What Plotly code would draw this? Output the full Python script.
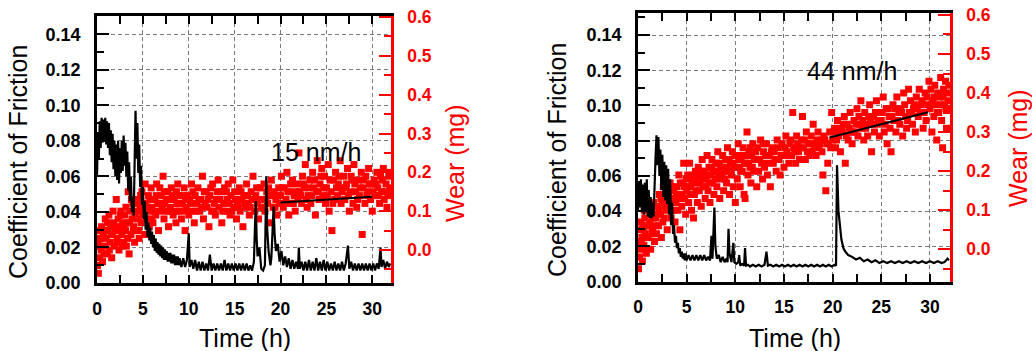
import plotly.graph_objects as go

W, H = 1032, 351

# ---------------- data: left panel ----------------
cof_left_pts = [
    (0.0, 0.060), (0.1, 0.085), (0.2, 0.070), (0.3, 0.091), (0.4, 0.076), (0.5, 0.093), (0.6, 0.079),
    (0.7, 0.092), (0.8, 0.080), (0.9, 0.093), (1.0, 0.078), (1.1, 0.091), (1.2, 0.076), (1.3, 0.090),
    (1.4, 0.072), (1.5, 0.086), (1.6, 0.068), (1.7, 0.084), (1.8, 0.064), (1.9, 0.080), (2.0, 0.060),
    (2.1, 0.078), (2.2, 0.058), (2.3, 0.080), (2.4, 0.056), (2.5, 0.076), (2.6, 0.062), (2.7, 0.080),
    (2.8, 0.063), (2.9, 0.083), (3.0, 0.066), (3.1, 0.079), (3.2, 0.060), (3.3, 0.074), (3.4, 0.052),
    (3.5, 0.068), (3.6, 0.046), (3.7, 0.060), (3.8, 0.040), (3.9, 0.045), (4.0, 0.038), (4.1, 0.080),
    (4.2, 0.097), (4.3, 0.070), (4.4, 0.090), (4.5, 0.062), (4.6, 0.078), (4.7, 0.054), (4.8, 0.066),
    (4.9, 0.044), (5.0, 0.054), (5.1, 0.036), (5.2, 0.046), (5.3, 0.030), (5.4, 0.040), (5.5, 0.026),
    (5.6, 0.034), (5.7, 0.024), (5.8, 0.031), (5.9, 0.022), (6.0, 0.029), (6.1, 0.020), (6.2, 0.027),
    (6.3, 0.018), (6.4, 0.025), (6.5, 0.017), (6.6, 0.023), (6.7, 0.016), (6.8, 0.022), (6.9, 0.015),
    (7.0, 0.021), (7.1, 0.014), (7.2, 0.020), (7.3, 0.013), (7.4, 0.019), (7.5, 0.013), (7.6, 0.018),
    (7.7, 0.012), (7.8, 0.017), (7.9, 0.012), (8.0, 0.017), (8.1, 0.011), (8.2, 0.016), (8.3, 0.011),
    (8.4, 0.016), (8.5, 0.010), (8.6, 0.015), (8.7, 0.010), (8.8, 0.015), (8.9, 0.010), (9.0, 0.014),
    (9.2, 0.009), (9.4, 0.014), (9.6, 0.009), (9.8, 0.013), (10.0, 0.028), (10.1, 0.009), (10.3, 0.013),
    (10.5, 0.008), (10.7, 0.013), (10.9, 0.007), (11.1, 0.012), (11.3, 0.007), (11.5, 0.012), (11.7, 0.007),
    (11.9, 0.011), (12.1, 0.007), (12.3, 0.016), (12.5, 0.007), (12.7, 0.011), (12.9, 0.007), (13.1, 0.011),
    (13.3, 0.007), (13.5, 0.011), (13.7, 0.007), (13.9, 0.013), (14.1, 0.007), (14.3, 0.011), (14.5, 0.007),
    (14.7, 0.011), (14.9, 0.007), (15.1, 0.011), (15.3, 0.007), (15.5, 0.011), (15.7, 0.007), (15.9, 0.011),
    (16.1, 0.007), (16.3, 0.011), (16.5, 0.007), (16.7, 0.010), (16.9, 0.007), (17.1, 0.012), (17.3, 0.046),
    (17.4, 0.025), (17.5, 0.015), (17.7, 0.020), (17.9, 0.008), (18.1, 0.007), (18.3, 0.010), (18.45, 0.060),
    (18.55, 0.030), (18.7, 0.018), (18.9, 0.010), (19.0, 0.014), (19.25, 0.043), (19.35, 0.028), (19.5, 0.018),
    (19.7, 0.022), (19.9, 0.012), (20.1, 0.018), (20.3, 0.010), (20.5, 0.015), (20.7, 0.009), (20.9, 0.014),
    (21.1, 0.008), (21.3, 0.013), (21.5, 0.008), (21.7, 0.012), (21.9, 0.008), (22.0, 0.020), (22.1, 0.008),
    (22.3, 0.012), (22.5, 0.007), (22.7, 0.012), (22.9, 0.007), (23.1, 0.013), (23.3, 0.007), (23.5, 0.012),
    (23.7, 0.007), (23.9, 0.014), (24.1, 0.007), (24.3, 0.012), (24.5, 0.007), (24.7, 0.013), (24.9, 0.007),
    (25.1, 0.012), (25.3, 0.007), (25.5, 0.011), (25.7, 0.007), (25.9, 0.012), (26.1, 0.007), (26.3, 0.011),
    (26.5, 0.007), (26.7, 0.012), (26.9, 0.007), (27.1, 0.011), (27.35, 0.021), (27.5, 0.008), (27.7, 0.012),
    (27.9, 0.007), (28.1, 0.011), (28.3, 0.007), (28.5, 0.011), (28.7, 0.007), (28.9, 0.011), (29.1, 0.007),
    (29.3, 0.011), (29.5, 0.007), (29.7, 0.011), (29.9, 0.007), (30.1, 0.011), (30.3, 0.007), (30.5, 0.011),
    (30.7, 0.008), (30.9, 0.020), (31.0, 0.009), (31.2, 0.013), (31.4, 0.008), (31.6, 0.012), (31.8, 0.009),
    (31.95, 0.011),
]

wear_left_pts = [
    (0.05, -0.04), (0.1, 0.02), (0.15, -0.06), (0.2, 0.05), (0.3, -0.02), (0.35, 0.03), (0.45, 0.0), (0.5, 0.06),
    (0.6, -0.03), (0.7, 0.04), (0.8, 0.01), (0.9, 0.08),
    (1.0, 0.03), (1.1, -0.01), (1.2, 0.05), (1.3, 0.09), (1.4, 0.02), (1.5, 0.06), (1.6, -0.02), (1.7, 0.04),
    (1.8, 0.07), (1.9, 0.01),
    (2.0, 0.05), (2.1, 0.13), (2.2, 0.03), (2.3, 0.08), (2.4, 0.0), (2.5, 0.06), (2.6, 0.1), (2.7, 0.04),
    (2.8, 0.07), (2.9, 0.02),
    (3.0, 0.09), (3.1, 0.05), (3.2, 0.01), (3.3, 0.07), (3.4, 0.15), (3.5, -0.01), (3.6, 0.1), (3.7, 0.04),
    (3.8, 0.08), (3.9, 0.12),
    (4.0, 0.06), (4.1, 0.02), (4.2, 0.1), (4.3, 0.05), (4.4, 0.13), (4.5, 0.08), (4.6, 0.03), (4.7, 0.11),
    (4.8, 0.07), (4.9, 0.15),
    (5.0, 0.09), (5.2, 0.04), (5.3, 0.12), (5.4, 0.08), (5.6, 0.14), (5.7, 0.06), (5.8, 0.1), (5.9, 0.16),
    (6.0, 0.11), (6.1, 0.07), (6.3, 0.13), (6.4, 0.09), (6.5, 0.17), (6.7, 0.05), (6.8, 0.12), (6.9, 0.1),
    (7.0, 0.14), (7.2, 0.19), (7.3, 0.08), (7.4, 0.12), (7.6, 0.1), (7.7, 0.15), (7.8, 0.06), (7.9, 0.13),
    (8.0, 0.11), (8.1, 0.16), (8.3, 0.09), (8.4, 0.13), (8.6, 0.07), (8.7, 0.12), (8.8, 0.17), (8.9, 0.1),
    (9.0, 0.14), (9.2, 0.08), (9.3, 0.12), (9.5, 0.16), (9.6, 0.05), (9.7, 0.11), (9.9, 0.14),
    (10.0, 0.09), (10.1, 0.13), (10.3, 0.17), (10.4, 0.1), (10.6, 0.07), (10.7, 0.14), (10.9, 0.12),
    (11.0, 0.16), (11.2, 0.1), (11.3, 0.13), (11.5, 0.19), (11.6, 0.08), (11.8, 0.12), (11.9, 0.15),
    (12.0, 0.11), (12.2, 0.06), (12.3, 0.14), (12.5, 0.1), (12.6, 0.17), (12.8, 0.12), (12.9, 0.09),
    (13.0, 0.13), (13.2, 0.18), (13.3, 0.11), (13.5, 0.15), (13.6, 0.07), (13.8, 0.12), (13.9, 0.16),
    (14.0, 0.1), (14.2, 0.13), (14.3, 0.17), (14.5, 0.09), (14.6, 0.14), (14.8, 0.18), (14.9, 0.11),
    (15.0, 0.15), (15.2, 0.08), (15.3, 0.12), (15.5, 0.16), (15.6, 0.1), (15.8, 0.13), (15.9, 0.06),
    (16.0, 0.14), (16.2, 0.11), (16.3, 0.17), (16.5, 0.12), (16.6, 0.09), (16.8, 0.15), (16.9, 0.13),
    (17.0, 0.19), (17.2, 0.1), (17.3, 0.14), (17.5, 0.12), (17.6, 0.08), (17.8, 0.16), (17.9, 0.11),
    (18.0, 0.13), (18.2, 0.17), (18.3, 0.1), (18.5, 0.15), (18.6, 0.12), (18.8, 0.07), (18.9, 0.14),
    (19.0, 0.18), (19.2, 0.11), (19.3, 0.15), (19.5, 0.13), (19.6, 0.09), (19.8, 0.16), (19.9, 0.12),
    (20.0, 0.14), (20.1, 0.19), (20.3, 0.11), (20.4, 0.16), (20.6, 0.13), (20.7, 0.2), (20.9, 0.09),
    (21.0, 0.15), (21.2, 0.12), (21.3, 0.18), (21.5, 0.14), (21.6, 0.1), (21.8, 0.17), (21.9, 0.13),
    (22.0, 0.25), (22.1, 0.15), (22.3, 0.12), (22.4, 0.19), (22.6, 0.16), (22.7, 0.22), (22.9, 0.11),
    (23.0, 0.14), (23.2, 0.18), (23.3, 0.12), (23.5, 0.2), (23.6, 0.16), (23.8, 0.09), (23.9, 0.15),
    (24.0, 0.23), (24.2, 0.13), (24.3, 0.17), (24.5, 0.21), (24.6, 0.14), (24.8, 0.19), (24.9, 0.12),
    (25.0, 0.16), (25.2, 0.22), (25.3, 0.1), (25.5, 0.15), (25.6, 0.05), (25.8, 0.18), (25.9, 0.13),
    (26.0, 0.2), (26.2, 0.14), (26.3, 0.17), (26.5, 0.23), (26.6, 0.12), (26.8, 0.16), (26.9, 0.19),
    (27.0, 0.13), (27.2, 0.17), (27.3, 0.21), (27.5, 0.1), (27.6, 0.15), (27.8, 0.18), (27.9, 0.12),
    (28.0, 0.22), (28.2, 0.15), (28.3, 0.11), (28.5, 0.18), (28.6, 0.14), (28.8, 0.2), (28.9, 0.04),
    (29.0, 0.16), (29.2, 0.12), (29.3, 0.19), (29.5, 0.15), (29.6, 0.21), (29.8, 0.13), (29.9, 0.17),
    (30.0, 0.1), (30.2, 0.18), (30.3, 0.14), (30.5, 0.2), (30.6, 0.16), (30.8, 0.12), (30.9, 0.19),
    (31.0, 0.15), (31.2, 0.21), (31.3, 0.13), (31.5, 0.17), (31.6, 0.11), (31.8, 0.19), (31.9, 0.16),
]

wear_left_pts_more = [
    (0.25, 0.01), (0.55, 0.03), (0.75, -0.01), (0.95, 0.05), (1.15, 0.07), (1.35, 0.0), (1.55, 0.04),
    (1.75, 0.1), (1.95, 0.06), (2.15, 0.02), (2.35, 0.05), (2.55, 0.09), (2.75, 0.01), (2.95, 0.06),
    (3.15, 0.11), (3.35, 0.03), (3.55, 0.07), (3.75, 0.13), (3.95, 0.05), (4.15, 0.09), (4.35, 0.12),
    (4.55, 0.05), (4.75, 0.14), (4.95, 0.1), (5.1, 0.12), (5.25, 0.17), (5.5, 0.11), (5.75, 0.13),
    (5.95, 0.08), (6.2, 0.1), (6.45, 0.14), (6.6, 0.12), (6.85, 0.16), (7.1, 0.11), (7.35, 0.15),
    (7.55, 0.13), (7.85, 0.1), (8.2, 0.14), (8.45, 0.1), (8.65, 0.15), (8.95, 0.12), (9.1, 0.1),
    (9.4, 0.14), (9.65, 0.13), (9.85, 0.1), (10.2, 0.12), (10.45, 0.15), (10.8, 0.1), (11.1, 0.13),
    (11.4, 0.11), (11.7, 0.15), (12.1, 0.13), (12.4, 0.16), (12.7, 0.1), (13.1, 0.15), (13.4, 0.13),
    (13.7, 0.1), (14.1, 0.15), (14.4, 0.12), (14.7, 0.1), (15.1, 0.13), (15.4, 0.11), (15.7, 0.15),
    (16.1, 0.12), (16.4, 0.14), (16.7, 0.11), (17.1, 0.13), (17.4, 0.16), (17.7, 0.13), (18.1, 0.11),
    (18.4, 0.13), (18.7, 0.16), (19.1, 0.14), (19.4, 0.11), (19.7, 0.14), (20.2, 0.16), (20.5, 0.12),
    (20.8, 0.15), (21.1, 0.17), (21.4, 0.12), (21.7, 0.15), (22.2, 0.14), (22.5, 0.17), (22.8, 0.13),
    (23.1, 0.16), (23.4, 0.14), (23.7, 0.18), (24.1, 0.15), (24.4, 0.19), (24.7, 0.16), (25.1, 0.14),
    (25.4, 0.18), (25.7, 0.12), (26.1, 0.16), (26.4, 0.19), (26.7, 0.15), (27.1, 0.16), (27.4, 0.14),
    (27.7, 0.19), (28.1, 0.17), (28.4, 0.13), (28.7, 0.16), (29.1, 0.18), (29.4, 0.14), (29.7, 0.17),
    (30.1, 0.15), (30.4, 0.17), (30.7, 0.14), (31.1, 0.18), (31.4, 0.15), (31.7, 0.14), (31.85, 0.2),
]

trend_left_time = [20.0, 30.0]
trend_left_wear = [0.122, 0.137]

# ---------------- data: right panel ----------------
cof_right_pts = [
    (0.0, 0.040), (0.1, 0.057), (0.2, 0.042), (0.3, 0.058), (0.4, 0.040), (0.5, 0.055), (0.6, 0.038),
    (0.7, 0.056), (0.8, 0.040), (0.9, 0.058), (1.0, 0.037), (1.1, 0.052), (1.2, 0.036), (1.3, 0.048),
    (1.4, 0.036), (1.5, 0.045), (1.6, 0.037), (1.7, 0.062), (1.8, 0.070), (1.9, 0.083), (2.0, 0.066),
    (2.1, 0.082), (2.2, 0.060), (2.3, 0.075), (2.4, 0.052), (2.5, 0.072), (2.6, 0.048), (2.7, 0.068),
    (2.8, 0.046), (2.9, 0.066), (3.0, 0.044), (3.1, 0.064), (3.2, 0.038), (3.3, 0.058), (3.4, 0.032),
    (3.5, 0.045), (3.6, 0.027), (3.7, 0.032), (3.8, 0.022), (3.9, 0.026), (4.0, 0.019), (4.1, 0.022),
    (4.2, 0.016), (4.3, 0.019), (4.4, 0.014), (4.5, 0.017), (4.6, 0.013), (4.7, 0.016), (4.8, 0.012),
    (4.9, 0.016), (5.0, 0.012), (5.2, 0.015), (5.4, 0.012), (5.6, 0.015), (5.8, 0.012), (6.0, 0.015),
    (6.2, 0.012), (6.4, 0.015), (6.6, 0.012), (6.8, 0.015), (7.0, 0.012), (7.2, 0.014), (7.4, 0.012),
    (7.55, 0.026), (7.65, 0.013), (7.85, 0.042), (7.95, 0.020), (8.1, 0.013), (8.3, 0.015), (8.5, 0.011),
    (8.7, 0.014), (8.9, 0.011), (9.1, 0.013), (9.2, 0.011), (9.3, 0.030), (9.4, 0.016), (9.6, 0.011),
    (9.8, 0.022), (9.9, 0.011), (10.1, 0.010), (10.3, 0.011), (10.4, 0.015), (10.5, 0.009), (10.7, 0.010),
    (10.9, 0.009), (11.0, 0.019), (11.1, 0.009), (11.3, 0.0095), (11.5, 0.0085), (11.8, 0.0095), (12.1, 0.0085),
    (12.4, 0.0095), (12.7, 0.0085), (13.0, 0.0095), (13.2, 0.017), (13.35, 0.009), (13.6, 0.0095), (13.9, 0.0085),
    (14.2, 0.0095), (14.5, 0.0085), (14.8, 0.0095), (15.1, 0.0085), (15.4, 0.0095), (15.7, 0.0085), (16.0, 0.0095),
    (16.3, 0.0085), (16.6, 0.0095), (16.9, 0.0085), (17.2, 0.0095), (17.5, 0.0085), (17.8, 0.0095), (18.1, 0.0085),
    (18.4, 0.0095), (18.7, 0.0085), (19.0, 0.0095), (19.3, 0.0085), (19.6, 0.0095), (19.9, 0.0085), (20.2, 0.0095),
    (20.35, 0.009), (20.45, 0.066), (20.6, 0.040), (20.75, 0.030), (20.9, 0.024), (21.1, 0.019), (21.3, 0.017),
    (21.6, 0.015), (22.0, 0.014), (22.4, 0.0125), (22.8, 0.0135), (23.2, 0.0115), (23.6, 0.0125), (24.0, 0.0110),
    (24.4, 0.0120), (24.8, 0.0105), (25.2, 0.0115), (25.6, 0.0105), (26.0, 0.0115), (26.4, 0.0105), (26.8, 0.0115),
    (27.2, 0.0105), (27.6, 0.0115), (28.0, 0.0105), (28.4, 0.0115), (28.8, 0.0105), (29.2, 0.0115), (29.6, 0.0105),
    (30.0, 0.0115), (30.4, 0.0105), (30.8, 0.0115), (31.2, 0.0105), (31.5, 0.0110), (31.8, 0.013), (31.95, 0.012),
]

wear_right_pts = [
    (0.05, -0.05), (0.1, 0.02), (0.15, -0.02), (0.2, 0.05), (0.25, 0.0), (0.3, 0.07), (0.4, 0.03), (0.45, -0.03),
    (0.5, 0.06), (0.6, 0.01), (0.7, 0.08), (0.75, 0.04), (0.85, -0.01), (0.9, 0.06),
    (1.0, 0.1), (1.1, 0.03), (1.2, 0.07), (1.3, 0.0), (1.4, 0.09), (1.5, 0.05), (1.6, 0.12), (1.7, 0.02),
    (1.8, 0.08), (1.9, 0.04),
    (2.0, 0.11), (2.1, 0.06), (2.2, 0.14), (2.3, 0.09), (2.4, 0.03), (2.5, 0.12), (2.6, 0.16), (2.7, 0.08),
    (2.8, 0.13), (2.9, 0.1),
    (3.0, 0.05), (3.1, 0.14), (3.2, 0.11), (3.3, 0.17), (3.4, 0.08), (3.5, 0.13), (3.6, 0.1), (3.7, 0.15),
    (3.8, 0.07), (3.9, 0.12),
    (4.0, 0.16), (4.1, 0.1), (4.2, 0.19), (4.3, 0.05), (4.4, 0.14), (4.5, 0.11), (4.6, 0.17), (4.7, 0.22),
    (4.8, 0.13), (4.9, 0.09),
    (5.0, 0.15), (5.1, 0.19), (5.2, 0.12), (5.3, 0.22), (5.4, 0.16), (5.5, 0.1), (5.6, 0.18), (5.7, 0.08),
    (5.8, 0.14), (5.9, 0.2),
    (6.0, 0.17), (6.1, 0.12), (6.2, 0.21), (6.3, 0.15), (6.4, 0.19), (6.5, 0.11), (6.6, 0.23), (6.7, 0.16),
    (6.8, 0.2), (6.9, 0.13),
    (7.0, 0.18), (7.1, 0.24), (7.2, 0.15), (7.3, 0.21), (7.4, 0.12), (7.5, 0.19), (7.6, 0.23), (7.7, 0.17),
    (7.8, 0.14), (7.9, 0.2),
    (8.0, 0.22), (8.1, 0.16), (8.2, 0.25), (8.3, 0.19), (8.4, 0.13), (8.5, 0.21), (8.6, 0.18), (8.7, 0.24),
    (8.8, 0.15), (8.9, 0.2),
    (9.0, 0.23), (9.1, 0.17), (9.2, 0.26), (9.3, 0.2), (9.4, 0.14), (9.5, 0.22), (9.6, 0.19), (9.7, 0.25),
    (9.8, 0.16), (9.9, 0.21),
    (10.0, 0.12), (10.1, 0.24), (10.2, 0.18), (10.3, 0.27), (10.4, 0.21), (10.5, 0.16), (10.6, 0.23), (10.7, 0.2),
    (10.8, 0.26), (10.9, 0.14),
    (11.0, 0.13), (11.1, 0.22), (11.2, 0.3), (11.3, 0.19), (11.4, 0.25), (11.5, 0.21), (11.6, 0.17), (11.7, 0.24),
    (11.8, 0.27), (11.9, 0.2),
    (12.0, 0.23), (12.2, 0.16), (12.3, 0.26), (12.4, 0.2), (12.6, 0.28), (12.7, 0.22), (12.8, 0.18), (12.9, 0.25),
    (13.0, 0.21), (13.2, 0.27), (13.3, 0.19), (13.5, 0.24), (13.6, 0.16), (13.8, 0.26), (13.9, 0.22),
    (14.0, 0.25), (14.2, 0.2), (14.3, 0.28), (14.5, 0.23), (14.6, 0.19), (14.8, 0.27), (14.9, 0.24),
    (15.0, 0.21), (15.2, 0.29), (15.3, 0.25), (15.5, 0.22), (15.6, 0.27), (15.8, 0.24), (15.9, 0.35),
    (16.0, 0.26), (16.2, 0.22), (16.3, 0.29), (16.5, 0.25), (16.6, 0.23), (16.8, 0.28), (16.9, 0.34),
    (17.0, 0.26), (17.2, 0.23), (17.3, 0.3), (17.5, 0.27), (17.6, 0.24), (17.8, 0.29), (17.9, 0.25),
    (18.0, 0.32), (18.2, 0.27), (18.3, 0.24), (18.5, 0.3), (18.6, 0.26), (18.8, 0.28), (18.9, 0.25),
    (19.0, 0.19), (19.1, 0.29), (19.3, 0.15), (19.4, 0.27), (19.5, 0.22), (19.7, 0.3), (19.8, 0.26), (19.9, 0.35),
    (20.0, 0.28), (20.2, 0.31), (20.3, 0.26), (20.5, 0.33), (20.6, 0.29), (20.8, 0.25), (20.9, 0.31),
    (21.0, 0.3), (21.2, 0.34), (21.3, 0.22), (21.5, 0.32), (21.6, 0.28), (21.8, 0.35), (21.9, 0.3),
    (22.0, 0.27), (22.2, 0.33), (22.3, 0.3), (22.5, 0.36), (22.6, 0.29), (22.8, 0.32), (22.9, 0.38),
    (23.0, 0.31), (23.2, 0.28), (23.3, 0.35), (23.5, 0.32), (23.6, 0.29), (23.8, 0.37), (23.9, 0.33),
    (24.0, 0.25), (24.2, 0.34), (24.3, 0.3), (24.5, 0.38), (24.6, 0.32), (24.8, 0.29), (24.9, 0.35),
    (25.0, 0.33), (25.2, 0.39), (25.3, 0.3), (25.5, 0.36), (25.6, 0.27), (25.8, 0.34), (25.9, 0.31),
    (26.0, 0.25), (26.2, 0.37), (26.3, 0.33), (26.5, 0.3), (26.6, 0.39), (26.8, 0.35), (26.9, 0.32),
    (27.0, 0.36), (27.2, 0.29), (27.3, 0.4), (27.5, 0.34), (27.6, 0.31), (27.8, 0.41), (27.9, 0.35),
    (28.0, 0.38), (28.2, 0.32), (28.3, 0.36), (28.5, 0.3), (28.6, 0.39), (28.8, 0.34), (28.9, 0.41),
    (29.0, 0.35), (29.2, 0.38), (29.3, 0.31), (29.5, 0.4), (29.6, 0.33), (29.8, 0.37), (29.9, 0.43),
    (30.0, 0.36), (30.1, 0.41), (30.2, 0.3), (30.3, 0.38), (30.4, 0.34), (30.5, 0.42), (30.6, 0.37),
    (30.7, 0.28), (30.8, 0.4), (30.9, 0.35),
    (31.0, 0.39), (31.1, 0.44), (31.2, 0.33), (31.3, 0.26), (31.4, 0.41), (31.5, 0.37), (31.6, 0.43),
    (31.7, 0.31), (31.8, 0.4), (31.9, 0.36), (31.95, 0.42),
]

wear_right_pts_more = [
    (0.35, 0.02), (0.55, 0.05), (0.65, 0.1), (0.8, 0.0), (0.95, 0.03), (1.15, 0.06), (1.25, 0.11),
    (1.45, 0.04), (1.55, 0.08), (1.75, 0.06), (1.95, 0.09), (2.15, 0.1), (2.35, 0.13), (2.55, 0.07),
    (2.75, 0.11), (2.95, 0.15), (3.15, 0.12), (3.35, 0.1), (3.55, 0.16), (3.75, 0.12), (3.95, 0.14),
    (4.15, 0.13), (4.35, 0.17), (4.55, 0.14), (4.75, 0.16), (4.95, 0.18), (5.15, 0.16), (5.35, 0.14),
    (5.55, 0.17), (5.75, 0.19), (5.95, 0.15), (6.15, 0.18), (6.35, 0.17), (6.55, 0.2), (6.75, 0.18),
    (6.95, 0.16), (7.15, 0.19), (7.35, 0.17), (7.55, 0.21), (7.75, 0.2), (7.95, 0.18), (8.15, 0.2),
    (8.35, 0.22), (8.55, 0.19), (8.75, 0.21), (8.95, 0.18), (9.15, 0.21), (9.35, 0.23), (9.55, 0.2),
    (9.75, 0.22), (9.95, 0.24), (10.15, 0.21), (10.35, 0.23), (10.55, 0.2), (10.75, 0.24), (10.95, 0.22),
    (11.15, 0.24), (11.35, 0.22), (11.55, 0.26), (11.75, 0.21), (11.95, 0.23), (12.1, 0.25), (12.5, 0.23),
    (12.85, 0.27), (13.1, 0.24), (13.4, 0.22), (13.7, 0.25), (14.1, 0.23), (14.4, 0.26), (14.7, 0.24),
    (15.1, 0.26), (15.4, 0.24), (15.7, 0.28), (16.1, 0.25), (16.4, 0.27), (16.7, 0.26), (17.1, 0.28),
    (17.4, 0.25), (17.7, 0.27), (18.1, 0.26), (18.4, 0.28), (18.7, 0.27), (19.2, 0.28), (19.6, 0.27),
    (20.1, 0.3), (20.4, 0.28), (20.7, 0.3), (21.1, 0.32), (21.4, 0.29), (21.7, 0.31), (22.1, 0.3),
    (22.4, 0.32), (22.7, 0.34), (23.1, 0.33), (23.4, 0.31), (23.7, 0.34), (24.1, 0.32), (24.4, 0.35),
    (24.7, 0.33), (25.1, 0.35), (25.4, 0.32), (25.7, 0.36), (26.1, 0.34), (26.4, 0.36), (26.7, 0.33),
    (27.1, 0.35), (27.4, 0.37), (27.7, 0.33), (28.1, 0.35), (28.4, 0.37), (28.7, 0.36), (29.1, 0.37),
    (29.4, 0.35), (29.7, 0.39), (30.15, 0.37), (30.45, 0.39), (30.75, 0.35), (31.05, 0.37), (31.35, 0.39),
    (31.65, 0.36), (31.85, 0.38),
]

trend_right_time = [19.7, 29.8]
trend_right_wear = [0.286, 0.351]

rate_labels = ["15 nm/h", "44 nm/h"]
cof_ticks = [0.00, 0.02, 0.04, 0.06, 0.08, 0.10, 0.12, 0.14]
wear_ticks = [0.0, 0.1, 0.2, 0.3, 0.4, 0.5, 0.6]
time_ticks = [0, 5, 10, 15, 20, 25, 30]

cof_left_time, cof_left = map(list, zip(*cof_left_pts))
wear_left_time, wear_left = map(list, zip(*(wear_left_pts + wear_left_pts_more)))
cof_right_time, cof_right = map(list, zip(*cof_right_pts))
wear_right_time, wear_right = map(list, zip(*(wear_right_pts + wear_right_pts_more)))

RED = "#ff0000"
FONT = "Liberation Sans, Arial, sans-serif"

fig = go.Figure()
# left panel
fig.add_trace(go.Scatter(x=wear_left_time, y=wear_left, mode="markers", xaxis="x", yaxis="y",
                         marker=dict(symbol="square", size=7, color=RED, line=dict(width=0))))
fig.add_trace(go.Scatter(x=trend_left_time, y=trend_left_wear, mode="lines", xaxis="x", yaxis="y",
                         line=dict(color="black", width=2)))
fig.add_trace(go.Scatter(x=cof_left_time, y=cof_left, mode="lines", xaxis="x", yaxis="y2",
                         line=dict(color="black", width=2.2)))
# right panel
fig.add_trace(go.Scatter(x=wear_right_time, y=wear_right, mode="markers", xaxis="x2", yaxis="y3",
                         marker=dict(symbol="square", size=7, color=RED, line=dict(width=0))))
fig.add_trace(go.Scatter(x=trend_right_time, y=trend_right_wear, mode="lines", xaxis="x2", yaxis="y3",
                         line=dict(color="black", width=2)))
fig.add_trace(go.Scatter(x=cof_right_time, y=cof_right, mode="lines", xaxis="x2", yaxis="y4",
                         line=dict(color="black", width=2.2)))

tickfont_x = dict(family=FONT, size=17.5, color="black", weight="bold")
tickfont_k = dict(family=FONT, size=18, color="black", weight="bold")
tickfont_r = dict(family=FONT, size=17.5, color=RED, weight="bold")


def xax(domain, anchor, rng):
    return dict(domain=domain, anchor=anchor, range=rng, tickmode="array", tickvals=time_ticks,
                showline=True, linecolor="black", linewidth=2.5, mirror="ticks",
                ticks="inside", ticklen=8, tickwidth=2, tickcolor="black",
                minor=dict(ticks="inside", dtick=2.5, tick0=0, ticklen=8, tickwidth=2, tickcolor="black",
                           showgrid=False),
                showgrid=True, gridcolor="#7a7a7a", gridwidth=1, griddash="4px,3px",
                zeroline=False, tickfont=tickfont_x, ticklabelstandoff=8, automargin=False)


def wear_ax(domain, anchor, rng):
    return dict(domain=domain, anchor=anchor, range=rng, side="right", tickmode="array",
                tickvals=wear_ticks, tickformat=".1f",
                showline=True, linecolor=RED, linewidth=2.5,
                ticks="inside", ticklen=12, tickwidth=2, tickcolor=RED,
                minor=dict(ticks="inside", dtick=0.05, tick0=0, ticklen=7, tickwidth=2, tickcolor=RED,
                           showgrid=False),
                showgrid=False, zeroline=False, tickfont=tickfont_r, ticklabelstandoff=10, automargin=False)


def cof_ax(over, anchor, rng):
    return dict(overlaying=over, anchor=anchor, range=rng, side="left", tickmode="array",
                tickvals=cof_ticks, tickformat=".2f",
                showline=True, linecolor="black", linewidth=2.5,
                ticks="inside", ticklen=12, tickwidth=2, tickcolor="black",
                minor=dict(ticks="inside", dtick=0.01, tick0=0, ticklen=7, tickwidth=2, tickcolor="black",
                           showgrid=False),
                showgrid=True, gridcolor="#7a7a7a", gridwidth=1, griddash="4px,3px",
                zeroline=False, tickfont=tickfont_k, ticklabelstandoff=10, automargin=False)


def px_x(p):
    return p / W


def px_y(p):
    return 1 - p / H


fig.update_layout(
    width=W, height=H, autosize=False,
    margin=dict(l=0, r=0, t=0, b=0, pad=0, autoexpand=False),
    paper_bgcolor="white", plot_bgcolor="white",
    showlegend=False,
    xaxis=xax([px_x(97), px_x(391)], "y", [0, 32.04]),
    yaxis=wear_ax([px_y(283), px_y(16)], "x", [-0.085, 0.6026]),
    yaxis2=cof_ax("y", "x", [0, 0.1503]),
    xaxis2=xax([px_x(638), px_x(950)], "y3", [0, 32.06]),
    yaxis3=wear_ax([px_y(281.5), px_y(13)], "x2", [-0.0825, 0.605]),
    yaxis4=cof_ax("y3", "x2", [0, 0.1525]),
)

title_font = dict(family=FONT, size=25, color="black")
title_font_r = dict(family=FONT, size=25, color=RED)
ann = [
    dict(text="Coefficient of Friction", x=px_x(18), y=px_y(162), textangle=-90, font=title_font),
    dict(text="Coefficient of Friction", x=px_x(557), y=px_y(160), textangle=-90, font=title_font),
    dict(text="Wear (mg)", x=px_x(455), y=px_y(163), textangle=-90, font=title_font_r),
    dict(text="Wear (mg)", x=px_x(1018), y=px_y(148), textangle=-90, font=title_font_r),
    dict(text="Time (h)", x=px_x(245), y=px_y(338), font=title_font),
    dict(text="Time (h)", x=px_x(795), y=px_y(338), font=title_font),
]
for a in ann:
    fig.add_annotation(xref="paper", yref="paper", xanchor="center", yanchor="middle",
                       showarrow=False, **a)

fig.add_annotation(text=rate_labels[0], xref="x", yref="y2", x=23.9, y=0.0738, showarrow=False,
                   xanchor="center", yanchor="middle", font=title_font)
fig.add_annotation(text=rate_labels[1], xref="x2", yref="y4", x=22.0, y=0.1198, showarrow=False,
                   xanchor="center", yanchor="middle", font=title_font)

fig.write_html("out.html", config={"displayModeBar": False},
               post_script="document.body.style.margin='0px';")
